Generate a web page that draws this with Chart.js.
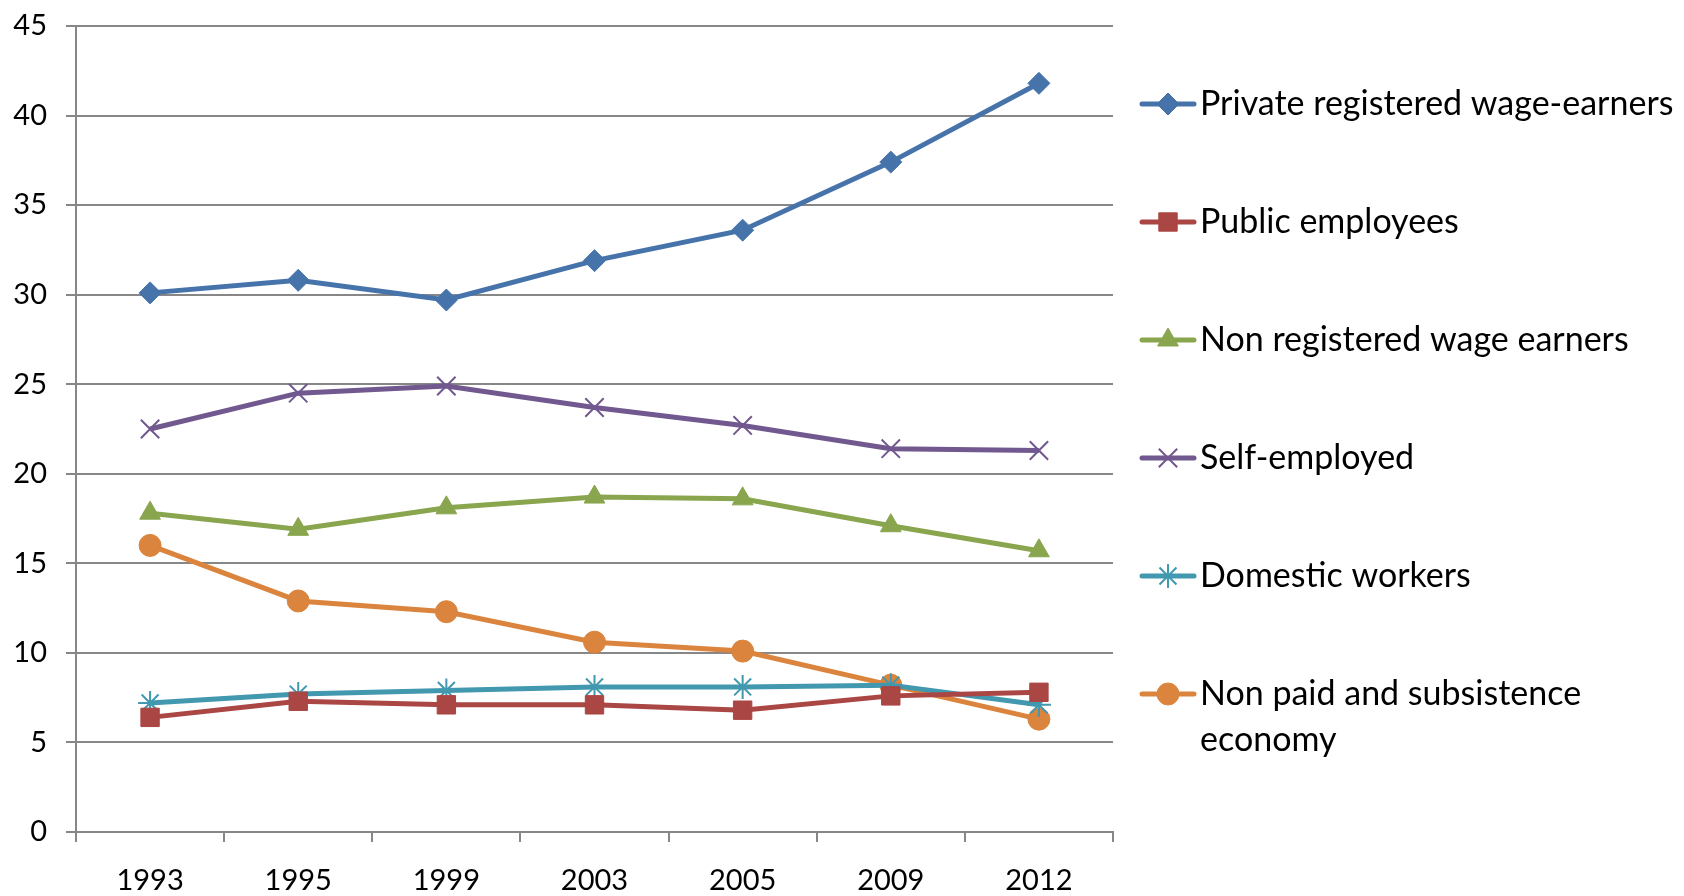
<!DOCTYPE html>
<html>
<head>
<meta charset="utf-8">
<script src="https://cdn.jsdelivr.net/npm/chart.js@4"></script>
<style>
  html, body { margin: 0; padding: 0; background: #ffffff; }
  #wrap { width: 1684px; height: 896px; position: relative; }
</style>
</head>
<body>
<div id="wrap"><canvas id="employmentChart" width="1684" height="896"></canvas></div>
<script>
// Años de la serie
const years = ['1993', '1995', '1999', '2003', '2005', '2009', '2012'];

// Valores por categoría de empleo (%)
const privateRegistered = [30.1, 30.8, 29.7, 31.9, 33.6, 37.4, 41.8];
const publicEmployees = [6.4, 7.3, 7.1, 7.1, 6.8, 7.6, 7.8];
const nonRegistered = [17.8, 16.9, 18.1, 18.7, 18.6, 17.1, 15.7];
const selfEmployed = [22.5, 24.5, 24.9, 23.7, 22.7, 21.4, 21.3];
const domesticWorkers = [7.2, 7.7, 7.9, 8.1, 8.1, 8.2, 7.1];
const nonPaid = [16.0, 12.9, 12.3, 10.6, 10.1, 8.2, 6.3];

const yTicks = [0, 5, 10, 15, 20, 25, 30, 35, 40, 45];

const FONT = 'Lato, "Noto Sans", sans-serif';
const GRID = '#878787';

function serie(label, data, color, pointStyle, radius, borderW) {
    return {
        label: label,
        data: data,
        borderColor: color,
        backgroundColor: color,
        pointBackgroundColor: color,
        pointBorderColor: color,
        borderWidth: 5,
        pointStyle: pointStyle,
        pointRadius: radius,
        pointHoverRadius: radius,
        pointBorderWidth: borderW,
        tension: 0
    };
}

// Leyenda dibujada a mano (texto con salto de línea)
const sideLegend = {
    id: 'sideLegend',
    afterDraw(chart) {
        const ctx = chart.ctx;
        const x0 = 1142, x1 = 1194, tx = 1200;
        const maxW = 1684 - tx;
        let y = 104;
        ctx.save();
        ctx.font = '34px ' + FONT;
        ctx.textBaseline = 'middle';
        chart.data.datasets.forEach(ds => {
            ctx.strokeStyle = ds.borderColor;
            ctx.fillStyle = ds.borderColor;
            ctx.lineWidth = 5;
            ctx.lineCap = 'round';
            ctx.beginPath();
            ctx.moveTo(x0, y);
            ctx.lineTo(x1, y);
            ctx.stroke();
            ctx.lineCap = 'butt';
            ctx.lineWidth = ds.pointBorderWidth;
            Chart.helpers.drawPoint(ctx, {
                pointStyle: ds.pointStyle,
                radius: ds.pointRadius,
                rotation: 0,
                borderWidth: ds.pointBorderWidth
            }, (x0 + x1) / 2, y);

            // partir el texto si no cabe
            const words = ds.label.split(' ');
            const lines = [];
            let cur = '';
            words.forEach(w => {
                const test = cur ? cur + ' ' + w : w;
                if (ctx.measureText(test).width > maxW && cur) {
                    lines.push(cur);
                    cur = w;
                } else {
                    cur = test;
                }
            });
            lines.push(cur);
            ctx.fillStyle = '#000000';
            lines.forEach((ln, i) => ctx.fillText(ln, tx, y + i * 46));
            y += 118;
        });
        ctx.restore();
    }
};

const ctx = document.getElementById('employmentChart').getContext('2d');
const employmentChart = new Chart(ctx, {
    type: 'line',
    data: {
        labels: years,
        datasets: [
            serie('Private registered wage-earners', privateRegistered, '#4674AA', 'rectRot', 11, 1),
            serie('Public employees', publicEmployees, '#AA4643', 'rect', 13, 1),
            serie('Non registered wage earners', nonRegistered, '#89A54E', 'triangle', 12, 1),
            serie('Self-employed', selfEmployed, '#71588F', 'crossRot', 13, 2),
            serie('Domestic workers', domesticWorkers, '#4198AF', 'star', 12, 2),
            serie('Non paid and subsistence economy', nonPaid, '#DB843D', 'circle', 11, 1)
        ]
    },
    options: {
        responsive: false,
        animation: false,
        layout: { padding: { top: 26, right: 571, left: 0, bottom: 0 } },
        plugins: {
            legend: { display: false },
            tooltip: { enabled: false }
        },
        scales: {
            x: {
                offset: true,
                grid: {
                    drawOnChartArea: false,
                    drawTicks: true,
                    tickLength: 10,
                    color: GRID,
                    lineWidth: 2,
                    offset: true
                },
                border: { color: GRID, width: 2 },
                ticks: {
                    color: '#000000',
                    font: { family: FONT, size: 29 },
                    padding: 21,
                    maxRotation: 0
                },
                afterFit(scale) {
                    scale.height = 64;
                    scale.paddingLeft = 0;
                    scale.paddingRight = 0;
                }
            },
            y: {
                min: 0,
                max: 45,
                afterBuildTicks(scale) { scale.ticks = yTicks.map(v => ({ value: v })); },
                grid: {
                    color: GRID,
                    lineWidth: 2,
                    tickLength: 10
                },
                border: { color: GRID, width: 2 },
                ticks: {
                    color: '#000000',
                    font: { family: FONT, size: 29 },
                    padding: 19
                },
                afterFit(scale) {
                    scale.width = 76;
                    scale.paddingTop = 0;
                    scale.paddingBottom = 0;
                }
            }
        }
    },
    plugins: [sideLegend]
});
</script>
</body>
</html>
